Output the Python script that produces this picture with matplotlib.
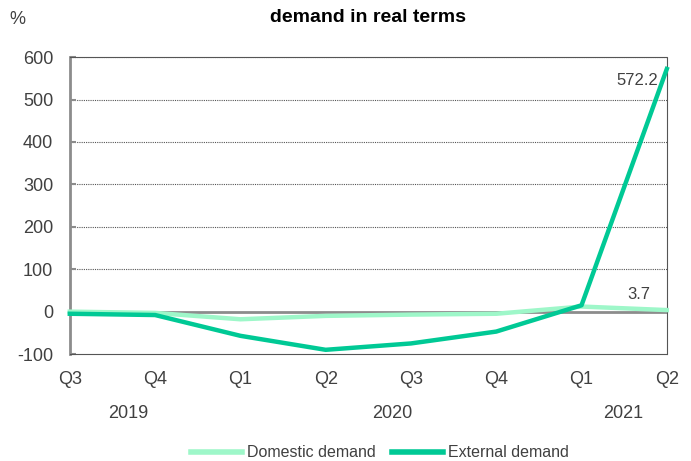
import matplotlib.pyplot as plt
import numpy as np
from matplotlib.lines import Line2D

quarters = ['Q3', 'Q4', 'Q1', 'Q2', 'Q3', 'Q4', 'Q1', 'Q2']
years = ['2019', '2020', '2021']
year_pos = [0.68, 3.78, 6.49]
domestic = [0, -3, -18, -10, -7, -5, 12, 3.7]
external = [-5, -8, -57, -90, -75, -47, 15, 572.2]

plt.rcParams['font.family'] = ['Liberation Sans', 'DejaVu Sans']
plt.rcParams['axes.unicode_minus'] = False

c_dom = '#9ef7c9'
c_ext = '#00c995'
txt = '#404040'

fig = plt.figure(figsize=(6.91, 4.61), dpi=100)
ax = fig.add_axes([0.101, 0.232, 0.864, 0.644])
x = np.arange(len(quarters))

ax.set_xlim(0, len(quarters) - 1)
ax.set_ylim(-100, 600)
for yv in range(100, 601, 100):
    ax.axhline(yv, color='#555555', lw=0.8, ls=(0, (1, 1)), zorder=1)
ax.axhline(0, color='#8c8c8c', lw=2, zorder=2)

ax.plot(x, domestic, color=c_dom, lw=3.2, zorder=3, solid_joinstyle='round', clip_on=False)
ax.plot(x, external, color=c_ext, lw=3.2, zorder=4, solid_joinstyle='round', clip_on=False)

for s in ['top', 'right', 'bottom']:
    ax.spines[s].set_linestyle((0, (1, 1)))
    ax.spines[s].set_color('#555555')
    ax.spines[s].set_linewidth(0.8)
ax.spines['left'].set_color('#8c8c8c')
ax.spines['left'].set_linewidth(2)

ax.set_yticks(range(-100, 601, 100))
ax.tick_params(axis='y', direction='in', length=4, width=1.5, color='#8c8c8c',
               labelsize=13, labelcolor=txt, pad=12)
ax.set_xticks(x)
ax.set_xticklabels(quarters)
ax.tick_params(axis='x', length=0, labelsize=13, labelcolor=txt, pad=12)

for lab, xp in zip(years, year_pos):
    ax.text(xp, -0.2, lab, transform=ax.get_xaxis_transform(), ha='center', va='center',
            fontsize=13, color=txt)

ax.annotate(f'{external[-1]:.1f}', (x[-1], external[-1]), xytext=(-6, -8),
            textcoords='offset points', ha='right', va='center', fontsize=12, color=txt)
ax.annotate(f'{domestic[-1]:.1f}', (x[-1], domestic[-1]), xytext=(-20, 11),
            textcoords='offset points', ha='center', va='center', fontsize=12, color=txt)

fig.text(0.532, 0.963, 'demand in real terms', ha='center', va='center', fontsize=14,
         fontweight='bold', color='black')
fig.text(0.025, 0.958, '%', ha='center', va='center', fontsize=13, color=txt)

handles = [Line2D([], [], color=c_dom, lw=4), Line2D([], [], color=c_ext, lw=4)]
fig.legend(handles, ['Domestic demand', 'External demand'], loc='center',
           bbox_to_anchor=(0.55, 0.018), ncol=2, frameon=False, fontsize=11.5,
           handlelength=3.2, columnspacing=1.0, handletextpad=0.3, labelcolor=txt)

fig.savefig('out.png', dpi=100)
